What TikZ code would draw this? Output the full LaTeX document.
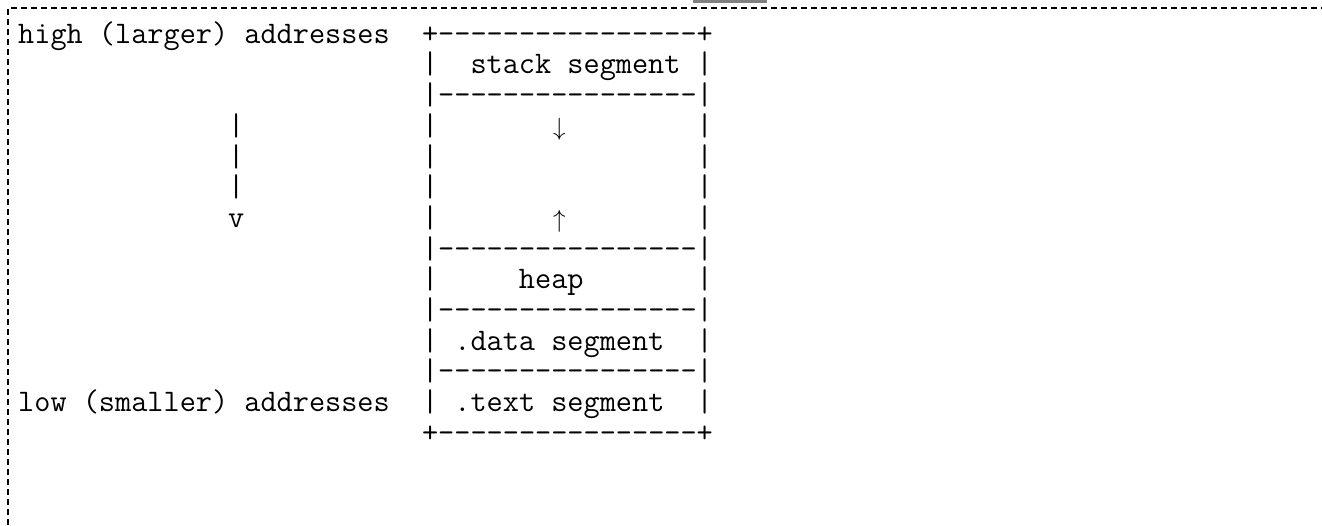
\documentclass[tikz,border=0pt]{standalone}
\usepackage{fontspec}
\usepackage{tikz}
\usetikzlibrary{positioning}
\newlength{\cw}
\newcommand{\pad}[1]{\hspace*{#1\cw}}
\newcommand{\glyph}[1]{\makebox[\cw]{$#1$}}
\tikzset{
asciirow/.style = {inner sep=0pt, text height=22pt, text depth=8.3pt, font=\ttfamily\fontsize{31.37}{30.3}\selectfont},
border/.style = {line width=1.5pt, dash pattern=on 6pt off 4pt},
}
\begin{document}
\frenchspacing
\settowidth{\cw}{\ttfamily\fontsize{31.37}{30.3}\selectfont x}
\begin{tikzpicture}[x=1pt, y=-1pt]
      \useasboundingbox (0,0) rectangle (1322,525);
      \fill [gray] (693,0) rectangle (767,3);
      \draw [border] (8,525) |- (1322,8);
      \node [asciirow, anchor=north west] (row0) at (18,21) {high (larger) addresses~~+----------------+};
      \node [asciirow, below=0pt of row0.south west, anchor=north west] (row1) {\pad{25}|~~stack segment~|};
      \node [asciirow, below=0pt of row1.south west, anchor=north west] (row2) {\pad{25}|----------------|};
      \node [asciirow, below=0pt of row2.south west, anchor=north west] (row3) {\pad{13}|\pad{11}|\pad{7}\glyph{\downarrow}\pad{8}|};
      \node [asciirow, below=0pt of row3.south west, anchor=north west] (row4) {\pad{13}|\pad{11}|\pad{16}|};
      \node [asciirow, below=0pt of row4.south west, anchor=north west] (row5) {\pad{13}|\pad{11}|\pad{16}|};
      \node [asciirow, below=0pt of row5.south west, anchor=north west] (row6) {\pad{13}v\pad{11}|\pad{7}\glyph{\uparrow}\pad{8}|};
      \node [asciirow, below=0pt of row6.south west, anchor=north west] (row7) {\pad{25}|----------------|};
      \node [asciirow, below=0pt of row7.south west, anchor=north west] (row8) {\pad{25}|\pad{5}heap\pad{7}|};
      \node [asciirow, below=0pt of row8.south west, anchor=north west] (row9) {\pad{25}|----------------|};
      \node [asciirow, below=0pt of row9.south west, anchor=north west] (row10) {\pad{25}|~.data segment~~|};
      \node [asciirow, below=0pt of row10.south west, anchor=north west] (row11) {\pad{25}|----------------|};
      \node [asciirow, below=0pt of row11.south west, anchor=north west] (row12) {low (smaller) addresses~~|~.text segment~~|};
      \node [asciirow, below=0pt of row12.south west, anchor=north west] (row13) {\pad{25}+----------------+};
\end{tikzpicture}
\end{document}
